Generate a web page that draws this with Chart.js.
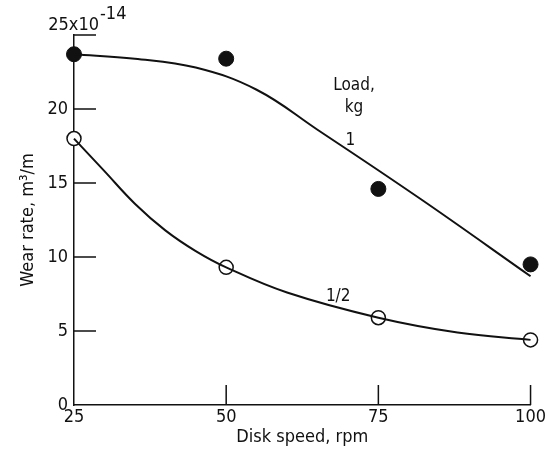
<!DOCTYPE html>
<html>
<head>
<meta charset="utf-8">
<script src="https://cdn.jsdelivr.net/npm/chart.js@4.4.1/dist/chart.umd.min.js"></script>
<style>
  html, body { margin: 0; padding: 0; background: #fff; }
  #wrap { width: 548px; height: 452px; }
</style>
</head>
<body>
<div id="wrap"><canvas id="wearChart" width="548" height="452"></canvas></div>
<script>
// measured points (wear rate in units of 1e-14 m3/m)
const speeds = [25, 50, 75, 100];
const load1Points = [23.7, 23.4, 14.6, 9.5];
const loadHalfPoints = [18.0, 9.3, 5.9, 4.4];

// faired curves
const load1CurveX = [25, 35, 45, 55, 65, 82, 100];
const load1CurveY = [23.7, 23.4, 22.8, 21.3, 18.6, 13.9, 8.7];
const loadHalfCurveX = [25, 30, 35, 40, 45, 50, 60, 75, 88, 100];
const loadHalfCurveY = [18.0, 15.8, 13.6, 11.8, 10.4, 9.3, 7.6, 5.9, 4.9, 4.4];

const xTicks = [25, 50, 75, 100];
const yTicks = [0, 5, 10, 15, 20, 25];

// curve labels: [text, rpm, wear rate]
const curveLabels = [
  ['Load,', 71, 21.6],
  ['kg', 71, 20.1],
  ['1', 70.4, 17.9],
  ['1/2', 68.4, 7.3]
];

const FONT = "'Liberation Sans Narrow', 'DejaVu Sans Condensed', 'DejaVu Sans', sans-serif";
const INK = '#111';

const toXY = (xs, ys) => xs.map((x, i) => ({ x: x, y: ys[i] }));

// draws tick marks pointing into the plot, plus the text annotations
const inwardTicks = {
  id: 'inwardTicks',
  afterDraw(chart) {
    const ctx = chart.ctx;
    const xs = chart.scales.x, ys = chart.scales.y;
    ctx.save();
    ctx.strokeStyle = INK;
    ctx.lineWidth = 1.5;
    ctx.beginPath();
    xTicks.slice(1).forEach(v => {
      const px = xs.getPixelForValue(v);
      ctx.moveTo(px, ys.bottom);
      ctx.lineTo(px, ys.bottom - 20);
    });
    yTicks.slice(1).forEach(v => {
      const py = ys.getPixelForValue(v);
      ctx.moveTo(xs.left, py);
      ctx.lineTo(xs.left + 22, py);
    });
    ctx.stroke();

    ctx.fillStyle = INK;
    ctx.textBaseline = 'middle';
    ctx.textAlign = 'center';
    ctx.font = '17px ' + FONT;
    curveLabels.forEach(l => {
      ctx.fillText(l[0], xs.getPixelForValue(l[1]), ys.getPixelForValue(l[2]));
    });

    // exponent label at the top of the y axis
    const topY = ys.getPixelForValue(25);
    ctx.font = '18px ' + FONT;
    ctx.textAlign = 'right';
    ctx.textBaseline = 'alphabetic';
    ctx.fillText('25x10', xs.left + 25, topY - 5);
    ctx.textAlign = 'left';
    ctx.fillText('-14', xs.left + 26, topY - 16);
    ctx.restore();
  }
};

new Chart(document.getElementById('wearChart'), {
  type: 'scatter',
  data: {
    datasets: [
      {
        label: 'curve 1',
        data: toXY(load1CurveX, load1CurveY),
        showLine: true,
        borderColor: INK,
        borderWidth: 2,
        pointRadius: 0,
        tension: 0.4,
        clip: false
      },
      {
        label: 'curve 1/2',
        data: toXY(loadHalfCurveX, loadHalfCurveY),
        showLine: true,
        borderColor: INK,
        borderWidth: 2,
        pointRadius: 0,
        tension: 0.4,
        clip: false
      },
      {
        label: 'Load 1 kg',
        data: toXY(speeds, load1Points),
        pointRadius: 7.5,
        pointBackgroundColor: INK,
        pointBorderColor: INK,
        pointBorderWidth: 1,
        clip: false
      },
      {
        label: 'Load 1/2 kg',
        data: toXY(speeds, loadHalfPoints),
        pointRadius: 7,
        pointBackgroundColor: '#fff',
        pointBorderColor: INK,
        pointBorderWidth: 1.5,
        clip: false
      }
    ]
  },
  options: {
    responsive: false,
    animation: false,
    layout: { padding: { left: 0, top: 35, right: 14, bottom: 0 } },
    plugins: { legend: { display: false }, tooltip: { enabled: false } },
    scales: {
      x: {
        type: 'linear',
        min: 25,
        max: 100,
        afterBuildTicks: s => { s.ticks = xTicks.map(v => ({ value: v })); },
        afterFit: s => { s.height = 47; },
        border: { display: true, color: INK, width: 1.5 },
        grid: { display: false, drawTicks: false },
        ticks: { color: INK, padding: 2, font: { family: FONT, size: 18 }, maxRotation: 0 },
        title: {
          display: true,
          text: 'Disk speed, rpm',
          color: INK,
          font: { family: FONT, size: 18 },
          padding: { top: 0, bottom: 4 }
        }
      },
      y: {
        type: 'linear',
        min: 0,
        max: 25,
        afterBuildTicks: s => { s.ticks = yTicks.map(v => ({ value: v })); },
        afterFit: s => { s.width = 74; },
        border: { display: true, color: INK, width: 1.5 },
        grid: { display: false, drawTicks: false },
        ticks: {
          color: INK,
          padding: 6,
          font: { family: FONT, size: 18 },
          callback: v => (v === 25 ? '' : v)
        },
        title: {
          display: true,
          text: 'Wear rate, m\u00b3/m',
          color: INK,
          font: { family: FONT, size: 18 },
          padding: { top: 18, bottom: 0 }
        }
      }
    }
  },
  plugins: [inwardTicks]
});
</script>
</body>
</html>
